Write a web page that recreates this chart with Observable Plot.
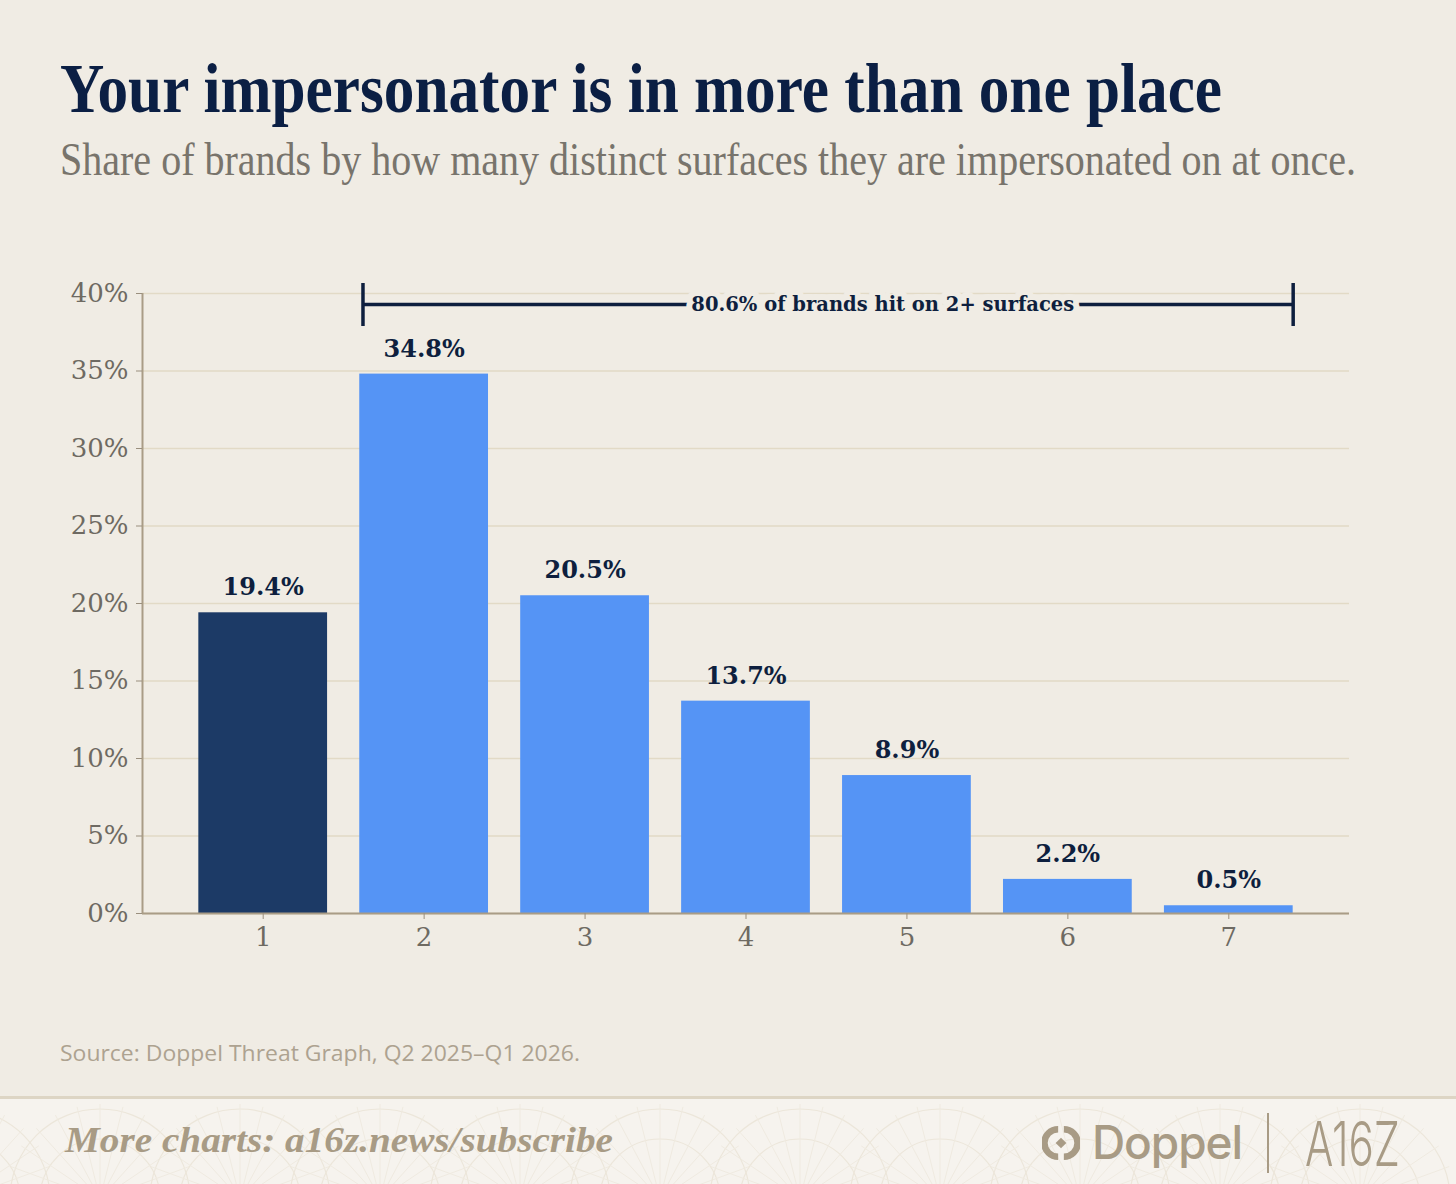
<!DOCTYPE html>
<html>
<head>
<meta charset="utf-8">
<script src="https://cdn.jsdelivr.net/npm/d3@7"></script>
<script src="https://cdn.jsdelivr.net/npm/@observablehq/plot@0.6"></script>
<style>
  html, body { margin: 0; padding: 0; background: #F0ECE4; }
  #page { position: relative; width: 1456px; height: 1184px; overflow: hidden; background: #F0ECE4; }
  .abs { position: absolute; white-space: nowrap; display: inline-block; transform-origin: 0 0; }
  #title { left: 60px; top: 54px; font: bold 70px/70px "Liberation Serif", serif; color: #0B1F44; }
  #subtitle { left: 60px; top: 137px; font: 46px/46px "Liberation Serif", serif; color: #78746C; }
  #chart { position: absolute; left: 0; top: 250px; }
  #source { left: 60px; top: 1042px; font: 21px/22px "Open Sans", sans-serif; color: #ADA290; }
  #footer { position: absolute; left: 0; top: 1096px; width: 1456px; height: 88px; background: #F6F3EE; border-top: 3px solid #DDD5C4; box-sizing: border-box; overflow: hidden; }
  #pattern { position: absolute; left: 0; top: 0; }
  #more { left: 65px; top: 23px; font: italic bold 36px/36px "Liberation Serif", serif; color: #A89B85; }
  #doppel { left: 1092px; top: 20px; font: 500 46px/46px Inter, sans-serif; color: #A89B85; }
  #icon { position: absolute; left: 1042px; top: 25px; }
  #divider { position: absolute; left: 1267px; top: 14px; width: 2px; height: 60px; background: #A89B85; }
  #a16z { left: 1305px; top: 14px; font: 300 62px/62px Inter, sans-serif; color: #A89B85; }
</style>
</head>
<body>
<div id="page">
  <div id="title" class="abs">Your impersonator is in more than one place</div>
  <div id="subtitle" class="abs">Share of brands by how many distinct surfaces they are impersonated on at once.</div>
  <div id="chart"></div>
  <div id="source" class="abs">Source: Doppel Threat Graph, Q2 2025–Q1 2026.</div>
  <div id="footer">
    <svg id="pattern" width="1456" height="88"></svg>
    <div id="more" class="abs">More charts: a16z.news/subscribe</div>
    <svg id="icon" width="38" height="38" viewBox="0 0 40 40">
      <path d="M17 2 A18 18 0 0 0 17 38 L17 31 A11 11 0 0 1 17 9 Z" fill="#A89B85"/>
      <path d="M23 2 A18 18 0 0 1 23 38 L23 31 A11 11 0 0 0 23 9 Z" fill="#A89B85"/>
      <rect x="16" y="16" width="8" height="8" transform="rotate(45 20 20)" fill="#A89B85"/>
    </svg>
    <div id="doppel" class="abs">Doppel</div>
    <div id="divider"></div>
    <div id="a16z" class="abs">A16Z</div>
  </div>
</div>
<script>
// ---- data ----
const categories = [1, 2, 3, 4, 5, 6, 7];
const shares = [19.4, 34.8, 20.5, 13.7, 8.9, 2.2, 0.5];
const yTicks = [0, 5, 10, 15, 20, 25, 30, 35, 40];
const highlightCategory = 1;
const bracketFrom = 2;
const bracketTo = 7;
const bracketLabel = "80.6% of brands hit on 2+ surfaces";

const data = categories.map((c, i) => ({cat: c, share: shares[i]}));

// ---- styles ----
const navy = "#0E1F3E";
const tan = "#A99C86";
const bg = "#F0ECE4";
const hw = 0.4; // half bar width in category units
const xDomain = [0.25, 7.75];

const chart = Plot.plot({
  width: 1456,
  height: 730,
  marginLeft: 142,
  marginRight: 107,
  marginTop: 43,
  marginBottom: 67,
  x: {domain: xDomain},
  y: {domain: [0, 40]},
  style: {background: "transparent", fontFamily: "'DejaVu Serif', serif", overflow: "visible"},
  marks: [
    Plot.gridY(yTicks, {stroke: "#E2DAC6", strokeOpacity: 1, strokeWidth: 1.5}),
    Plot.rectY(data, {
      x1: d => d.cat - hw,
      x2: d => d.cat + hw,
      y: "share",
      fill: d => d.cat === highlightCategory ? "#1C3A66" : "#5594F5"
    }),
    Plot.ruleY([0], {stroke: tan, strokeWidth: 2}),
    Plot.ruleX([xDomain[0]], {y1: 0, y2: 40, stroke: tan, strokeWidth: 2}),
    Plot.axisY({ticks: yTicks, tickFormat: d => d + "%", tickSize: 6, tickPadding: 8, fontSize: 26, fill: "#6E6A62", stroke: "#9A8F7E", label: null}),
    Plot.axisX({ticks: categories, tickFormat: d => String(d), tickSize: 6, tickPadding: 8, fontSize: 26, fill: "#6E6A62", stroke: "#9A8F7E", label: null}),
    Plot.text(data, {x: "cat", y: "share", text: d => d.share.toFixed(1) + "%", dy: -25, fontSize: 24, fontWeight: "bold", fill: navy}),
    Plot.ruleY([40], {x1: () => bracketFrom - hw + 0.02, x2: () => bracketTo + hw, dy: 11, stroke: navy, strokeWidth: 3.5}),
    Plot.ruleX([bracketFrom - hw + 0.02, bracketTo + hw], {y1: 40, y2: 40, insetTop: -10, insetBottom: -33, stroke: navy, strokeWidth: 3.5}),
    Plot.text([bracketLabel], {x: () => 4.85, y: () => 40, dy: 11, text: d => d, fontSize: 19.5, fontWeight: "bold", fill: navy, stroke: bg, strokeWidth: 12, paintOrder: "stroke", strokeLinejoin: "round"})
  ]
});
document.getElementById("chart").appendChild(chart);

// ---- faint footer pattern (decoration) ----
const pat = d3.select("#pattern");
for (let cx = -40; cx < 1500; cx += 140) {
  for (const r of [60, 90]) {
    pat.append("circle").attr("cx", cx).attr("cy", 100).attr("r", r)
      .attr("fill", "none").attr("stroke", "#ECE6DA").attr("stroke-width", 1.2);
  }
  for (let a = -70; a <= 70; a += 14) {
    const t = (a - 90) * Math.PI / 180;
    pat.append("line").attr("x1", cx).attr("y1", 100)
      .attr("x2", cx + 95 * Math.cos(t)).attr("y2", 100 + 95 * Math.sin(t))
      .attr("stroke", "#EFEAE0").attr("stroke-width", 1);
  }
}

// ---- fit text widths to the reference ----
function fitSpacing(id, target) {
  const el = document.getElementById(id);
  const n = el.textContent.length;
  const w = el.getBoundingClientRect().width;
  el.style.letterSpacing = ((target - w) / n) + "px";
}
function fitScale(id, target) {
  const el = document.getElementById(id);
  const w = el.getBoundingClientRect().width;
  el.style.transform = "scaleX(" + (target / w) + ")";
}
fitScale("title", 1162);
fitScale("subtitle", 1296);
fitScale("source", 520);
fitScale("more", 548);
fitSpacing("doppel", 150);
fitScale("a16z", 95);
</script>
</body>
</html>
